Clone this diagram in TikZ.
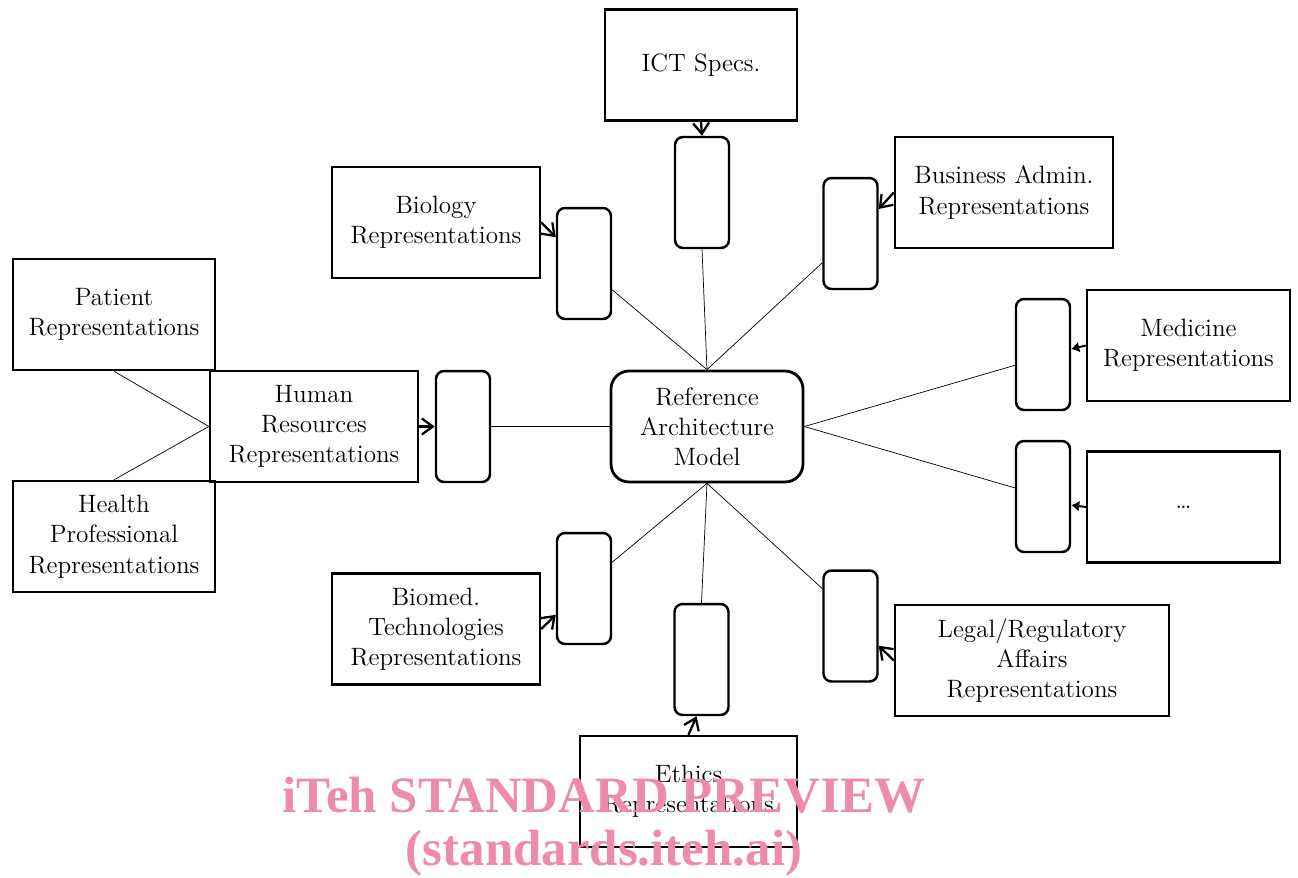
\documentclass[tikz,border=0pt]{standalone}
\usepackage{fontspec}
\newfontfamily\wmfont{Liberation Serif}
\usetikzlibrary{arrows.meta}
\definecolor{wmpink}{RGB}{236,139,170}
\tikzset{
  repbox/.style={draw,line width=1.4pt,minimum height=2.22cm,align=center,inner sep=2pt},
  linkbox/.style={draw,line width=1.4pt,rounded corners=0.16cm,minimum width=1.08cm,minimum height=2.22cm},
  modelbox/.style={draw,line width=1.6pt,rounded corners=0.36cm,minimum width=3.84cm,minimum height=2.22cm,align=center},
  feed/.style={line width=1.3pt,-{Straight Barb[length=2.2mm,width=3.2mm]}},
  feedfill/.style={line width=1.1pt,-{Latex[length=1.6mm,width=2.2mm]}}
}
\begin{document}
\begin{tikzpicture}[x=0.02cm,y=-0.02cm,font=\fontsize{14.3}{17.2}\selectfont]
\useasboundingbox (0,0) rectangle (1298,877);
\node[modelbox] (ram) at (707,426.5) {Reference\\Architecture\\Model};
% representation boxes
\node[repbox,minimum width=3.84cm] (ict) at (701,65) {ICT Specs.};
\node[repbox,minimum width=4.36cm] (busi) at (1004,192.5) {Business Admin.\\Representations};
\node[repbox,minimum width=4.16cm] (biol) at (436,222.5) {Biology\\Representations};
\node[repbox,minimum width=4.04cm] (pat) at (114,314.5) {Patient\\Representations};
\node[repbox,minimum width=4.16cm] (hr) at (314,426.5) {Human\\Resources\\Representations};
\node[repbox,minimum width=4.04cm] (hp) at (114,536.5) {Health\\Professional\\Representations};
\node[repbox,minimum width=4.06cm] (medi) at (1188.5,345.5) {Medicine\\Representations};
\node[repbox,minimum width=3.86cm] (etc) at (1183.5,507) {\dots};
\node[repbox,minimum width=4.16cm] (biom) at (436,629) {Biomed.\\Technologies\\Representations};
\node[repbox,minimum width=4.34cm] (ethi) at (688.5,791.5) {Ethics\\Representations};
\node[repbox,minimum width=5.48cm] (lega) at (1032,660.5) {Legal/Regulatory\\Affairs\\Representations};
% link boxes
\node[linkbox] (ictc) at (702,192.5) {};
\node[linkbox] (busc) at (850.5,233.5) {};
\node[linkbox] (bioc) at (584,263.5) {};
\node[linkbox] (hrc) at (463,426.5) {};
\node[linkbox] (medc) at (1043,354.5) {};
\node[linkbox] (etcc) at (1043,496.5) {};
\node[linkbox] (bmc) at (584,588.5) {};
\node[linkbox] (ethc) at (701.5,659.5) {};
\node[linkbox] (legc) at (850.5,626) {};
% model to link boxes
\draw (ram.north) -- (ictc.south);
\draw (ram.north) -- (busc.226);
\draw (ram.north) -- (bioc.-43);
\draw (ram.west) -- (hrc.east);
\draw (ram.east) -- (medc.201);
\draw (ram.east) -- (etcc.163);
\draw (ram.south) -- (bmc.43);
\draw (ram.south) -- (ethc.north);
\draw (ram.south) -- (legc.127);
\draw (pat.south) -- (hr.west);
\draw (hp.north) -- (hr.west);
% feeds
\draw[feed] (ict.south) -- (ictc.north);
\draw[feed] (busi.west) -- (busc.41);
\draw[feed] (biol.east) -- (bioc.137);
\draw[feed] (hr.east) -- (hrc.west);
\draw[feedfill] (medi.west) -- (medc.11);
\draw[feedfill] (etc.west) -- (etcc.-17);
\draw[feed] (biom.east) -- (bmc.223);
\draw[feed] (ethi.north) -- (ethc.-95);
\draw[feed] (lega.west) -- (legc.-35);
% watermark
\node[text=wmpink,font=\wmfont\bfseries\fontsize{29}{34}\selectfont] (wm1) at (604,795) {iTeh STANDARD PREVIEW};
\node[text=wmpink,font=\wmfont\bfseries\fontsize{29}{34}\selectfont] (wm2) at (604,853) {(standards.iteh.ai)};
\end{tikzpicture}
\end{document}
